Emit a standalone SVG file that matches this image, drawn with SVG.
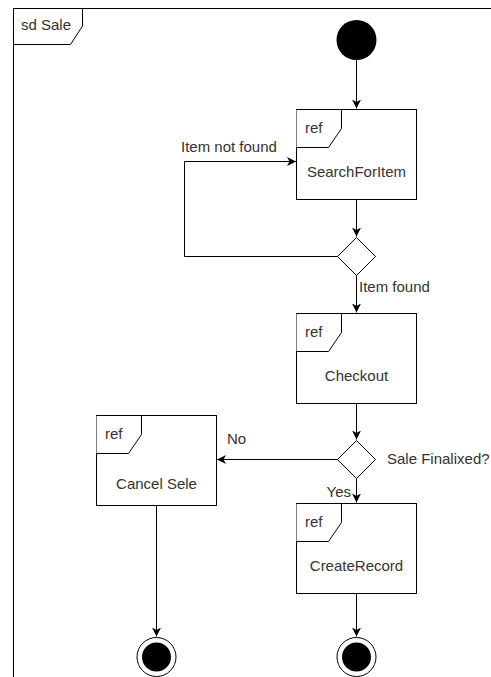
<svg xmlns="http://www.w3.org/2000/svg" width="491" height="677" viewBox="0 0 491 677">
  <style>
    .ln { fill: none; stroke: #000; stroke-width: 1; }
    .box { fill: #fff; stroke: #000; stroke-width: 1; }
    .tab { fill: #fff; stroke: #000; stroke-width: 1; }
    .t { font-family: "Liberation Sans", Arial, sans-serif; font-size: 15px; fill: #333; }
    .c { text-anchor: middle; }
  </style>
  <defs>
    <marker id="arr" markerUnits="userSpaceOnUse" markerWidth="10" markerHeight="10" refX="9" refY="4.5" orient="auto">
      <path d="M0,0 L9,4.5 L0,9 L2.5,4.5 Z" fill="#000"/>
    </marker>
  </defs>

  <rect width="491" height="677" fill="#fff"/>

  <!-- sequence diagram frame -->
  <g id="frame">
    <rect x="13.5" y="8.5" width="600" height="800" class="ln"/>
    <path d="M13.5,8.5 H82.5 V26 L70.5,44.5 H13.5 Z" class="tab"/>
    <text x="21" y="30" class="t">sd Sale</text>
  </g>

  <!-- connectors -->
  <g id="connectors" class="ln">
    <path d="M356.5,60 V108.5" marker-end="url(#arr)"/>
    <path d="M356.5,199.5 V236.5" marker-end="url(#arr)"/>
    <path d="M337.5,256.5 H184.5 V161.5 H296" marker-end="url(#arr)"/>
    <path d="M356.5,275.5 V312.5" marker-end="url(#arr)"/>
    <path d="M356.5,403.5 V439.5" marker-end="url(#arr)"/>
    <path d="M337.5,459.5 H217" marker-end="url(#arr)"/>
    <path d="M356.5,478.5 V502.5" marker-end="url(#arr)"/>
    <path d="M156.5,505.5 V636.5" marker-end="url(#arr)"/>
    <path d="M356.5,593.5 V636.5" marker-end="url(#arr)"/>
  </g>

  <!-- connector labels -->
  <g id="labels">
    <text x="181" y="152" class="t">Item not found</text>
    <text x="359" y="292" class="t">Item found</text>
    <text x="227" y="444" class="t">No</text>
    <text x="387" y="464" class="t">Sale Finalixed?</text>
    <text x="351" y="497" class="t" text-anchor="end">Yes</text>
  </g>

  <g id="start">
    <circle cx="356.5" cy="40" r="20" fill="#000"/>
  </g>

  <g id="searchForItem">
    <rect x="296.5" y="109.5" width="120" height="90" class="box"/>
    <path d="M296.5,109.5 H341.5 V128.5 L328.5,147.5 H296.5" class="tab"/>
    <text x="305" y="133" class="t">ref</text>
    <text x="356.5" y="177" class="t c">SearchForItem</text>
  </g>

  <g id="decisionFound">
    <path d="M356.5,237.5 L375.5,256.5 L356.5,275.5 L337.5,256.5 Z" class="box"/>
  </g>

  <g id="checkout">
    <rect x="296.5" y="313.5" width="120" height="90" class="box"/>
    <path d="M296.5,313.5 H341.5 V332.5 L328.5,351.5 H296.5" class="tab"/>
    <text x="305" y="337" class="t">ref</text>
    <text x="356.5" y="381" class="t c">Checkout</text>
  </g>

  <g id="decisionFinalized">
    <path d="M356.5,440.5 L375.5,459.5 L356.5,478.5 L337.5,459.5 Z" class="box"/>
  </g>

  <g id="cancelSale">
    <rect x="96.5" y="415.5" width="120" height="90" class="box"/>
    <path d="M96.5,415.5 H141.5 V434.5 L128.5,453.5 H96.5" class="tab"/>
    <text x="105" y="439" class="t">ref</text>
    <text x="156.5" y="489" class="t c">Cancel Sele</text>
  </g>

  <g id="createRecord">
    <rect x="296.5" y="503.5" width="120" height="90" class="box"/>
    <path d="M296.5,503.5 H341.5 V522.5 L328.5,541.5 H296.5" class="tab"/>
    <text x="305" y="527" class="t">ref</text>
    <text x="356.5" y="571" class="t c">CreateRecord</text>
  </g>

  <g id="endCancel">
    <circle cx="156.5" cy="657" r="19.5" fill="#fff" stroke="#000" stroke-width="1"/>
    <circle cx="156.5" cy="657" r="14.5" fill="#000"/>
  </g>

  <g id="endRecord">
    <circle cx="356.5" cy="657" r="19.5" fill="#fff" stroke="#000" stroke-width="1"/>
    <circle cx="356.5" cy="657" r="14.5" fill="#000"/>
  </g>
</svg>
